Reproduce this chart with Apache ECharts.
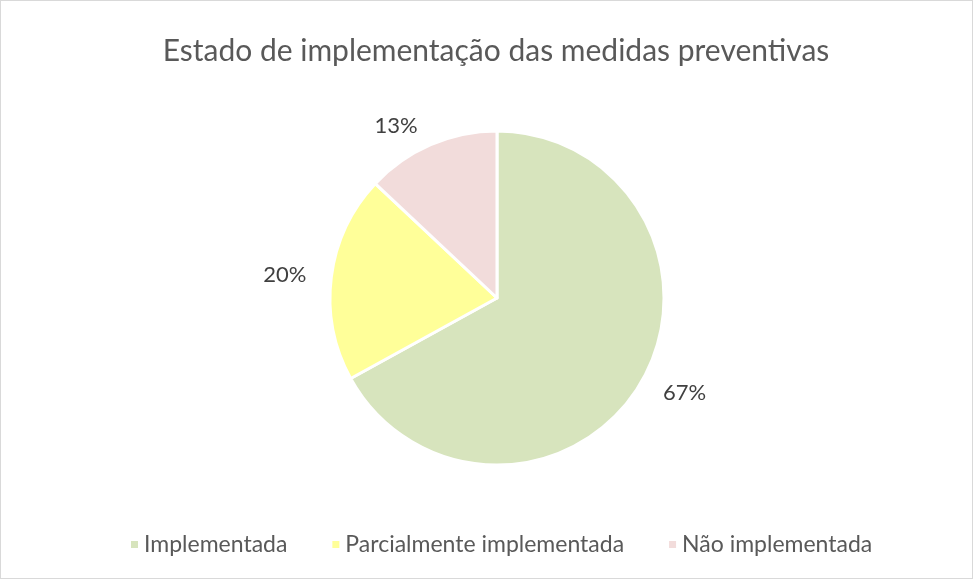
<!DOCTYPE html>
<html>
<head>
<meta charset="utf-8">
<script src="https://cdn.jsdelivr.net/npm/echarts@6/dist/echarts.min.js"></script>
<style>
  html, body { margin: 0; padding: 0; background: #fff; }
  #chart { width: 973px; height: 579px; box-sizing: border-box; border: 1px solid #d9d9d9; }
</style>
</head>
<body>
<div id="chart"></div>
<script>
// dados
const categories = ['Implementada', 'Parcialmente implementada', 'Não implementada']
const values = [67, 20, 13]
const colors = ['#D7E4BD', '#FFFF99', '#F2DCDB']

const chart = echarts.init(document.getElementById('chart'))

chart.setOption({
  animation: false,
  textStyle: { fontFamily: 'Lato, "Open Sans", sans-serif' },
  title: {
    text: 'Estado de implementação das medidas preventivas',
    left: 490,
    textAlign: 'center',
    top: 30,
    textStyle: { fontSize: 30, fontWeight: 'normal', color: '#595959', fontFamily: 'Lato' }
  },
  legend: {
    bottom: 17,
    left: 123,
    itemWidth: 9,
    itemHeight: 9,
    itemGap: 43,
    icon: 'rect',
    textStyle: { fontSize: 23, color: '#595959', fontFamily: 'Lato' },
    data: categories
  },
  series: [
    {
      type: 'pie',
      center: [496, 297],
      radius: [0, 167],
      startAngle: 90,
      clockwise: true,
      itemStyle: { borderColor: '#fff', borderWidth: 3 },
      label: {
        show: true,
        position: 'outside',
        formatter: '{d}%',
        fontSize: 22,
        color: '#404040',
        fontFamily: 'Lato'
      },
      labelLine: { show: false, length: 20, length2: 0 },
      data: categories.map((name, i) => ({
        name: name,
        value: values[i],
        itemStyle: { color: colors[i] }
      }))
    }
  ]
})
</script>
</body>
</html>
